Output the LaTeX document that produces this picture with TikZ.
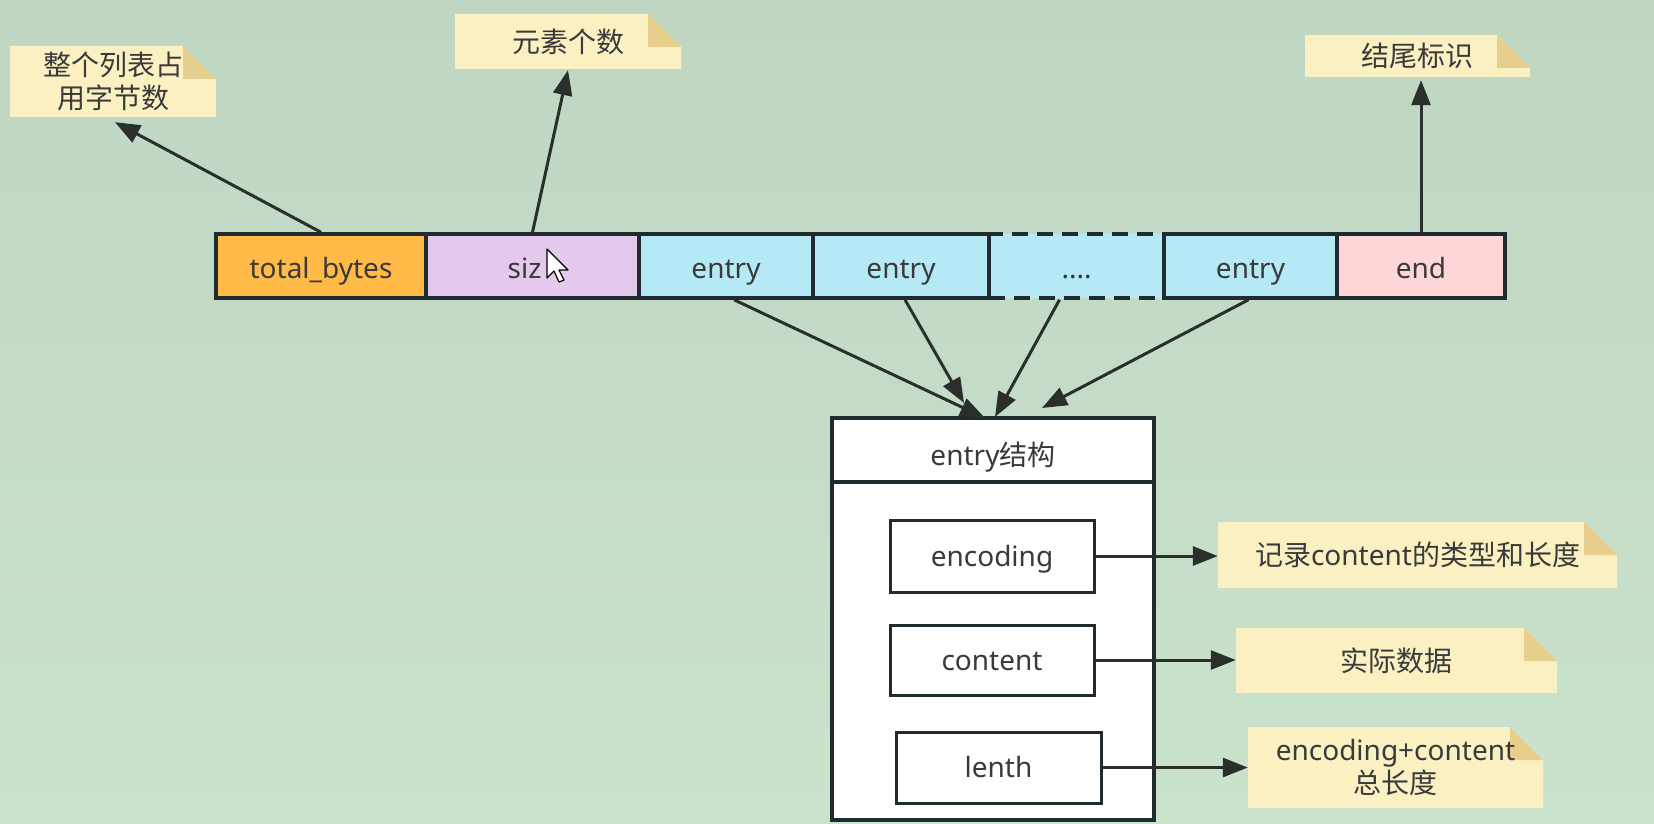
\documentclass[tikz,border=0pt]{standalone}
\usepackage{fontspec}
\setmainfont{Noto Sans}
\newfontfamily\cjk{Noto Sans CJK SC}
\usetikzlibrary{arrows.meta,calc}
\definecolor{bgtop}{HTML}{BFD6C2}
\definecolor{bgmid}{HTML}{D0E7D3}
\definecolor{bgbot}{HTML}{CAE3CD}
\definecolor{borderc}{HTML}{1F2B2E}
\definecolor{txt}{HTML}{3A3A3A}
\definecolor{orangef}{HTML}{FFBA47}
\definecolor{lilacf}{HTML}{E5C9EC}
\definecolor{cyanf}{HTML}{B5E9F5}
\definecolor{pinkf}{HTML}{FFD6D7}
\definecolor{notef}{HTML}{FAF0C2}
\definecolor{foldf}{HTML}{E7D08E}
\definecolor{arrowc}{HTML}{2B2F2C}
\newcommand\mknote[6]{%
  \fill[notef] (#2,#3) -- (#4-33,#3) -- (#4,#3+33) -- (#4,#5) -- (#2,#5) -- cycle;
  \fill[foldf] (#4-33,#3) -- (#4-33,#3+33) -- (#4,#3+33) -- cycle;
  \node[notenode, minimum width={#4-#2}, minimum height={#5-#3}] (#1) at ({(#2+#4)/2},{(#3+#5)/2}) {#6};
}
\begin{document}
\begin{tikzpicture}[x=1pt,y=-1pt,
  font=\fontsize{28}{33}\selectfont, text=txt,
  cell/.style={draw=borderc, line width=3.5pt, minimum height=64, inner sep=0, text height=24pt, text depth=0pt},
  ibox/.style={draw=borderc, line width=3pt, inner sep=0, fill=white, text height=22pt, text depth=2pt},
  notenode/.style={inner sep=0, align=center},
  arr/.style={draw=arrowc, line width=3pt, -{Triangle[length=25pt,width=19pt]}}]
\useasboundingbox (0,0) rectangle (1654,824);
\shade[top color=bgtop, middle color=bgmid, bottom color=bgbot] (0,0) rectangle (1654,824);

% notes
\mknote{n1}{10}{46}{216}{117}{{\cjk 整个列表占}\\{\cjk 用字节数}}
\mknote{n2}{455}{14}{681}{69}{{\cjk 元素个数}}
\mknote{n3}{1305}{35}{1530}{77}{{\cjk 结尾标识}}
\mknote{n4}{1218}{522}{1617}{588}{{\cjk 记录}content{\cjk 的类型和长度}}
\mknote{n5}{1236}{628}{1557}{693}{{\cjk 实际数据}}
\mknote{n6}{1248}{727}{1543}{808}{encoding+content\\{\cjk 总长度}}

% top row
\node[cell, fill=cyanf, dashed, dash pattern=on 16pt off 9pt, minimum width=175] (dots) at (1076.5,266) {....};
\node[cell, fill=orangef, minimum width=210] (tb) at (321,266) {total\_bytes};
\node[cell, fill=lilacf, minimum width=213] (sz) at (532.5,266) {siz\phantom{e}};
\node[cell, fill=cyanf, minimum width=174] (e1) at (726,266) {entry};
\node[cell, fill=cyanf, minimum width=176] (e2) at (901,266) {entry};
\node[cell, fill=cyanf, minimum width=173] (e3) at (1250.5,266) {entry};
\node[cell, fill=pinkf, minimum width=168] (end) at (1421,266) {end};

% mouse pointer
\filldraw[fill=white, draw=black, line width=1.2pt, line join=round]
  (547,249) -- (547,278) -- (554,271) -- (559,282) -- (564,280) -- (559,270) -- (568,270) -- cycle;

% entry structure
\node[ibox, line width=3.5pt, minimum width=322, minimum height=402] (stbox) at (993,619) {};
\node[ibox, line width=3.5pt, minimum width=322, minimum height=64] (st) at (993,450) {};
\node at (993,455) [text height=22pt, text depth=2pt, inner sep=0] (sttxt) {entry{\cjk 结构}};
\node[ibox, minimum width=204, minimum height=72] (enc) at (992,556) {encoding};
\node[ibox, minimum width=204, minimum height=70] (con) at (992,660) {content};
\node[ibox, minimum width=205, minimum height=71] (len) at (998.5,767.5) {lenth};

% arrows up
\draw[arr] (tb.north) -- ([xshift=2pt,yshift=-5pt]n1.south);
\draw[arr] (sz.north) -- ([yshift=-1pt]n2.south);
\draw[arr] (end.north) -- ([yshift=-3pt]end.north |- n3.south);

% arrows to structure
\coordinate (t1) at (985,418);
\coordinate (t2) at (964,403);
\coordinate (t3) at (995,417);
\coordinate (t4) at (1042,408);
\draw[arr] ([xshift=8pt]e1.south) -- (t1);
\draw[arr] ([xshift=4pt]e2.south) -- (t2);
\draw[arr] ([xshift=-17pt]dots.south) -- (t3);
\draw[arr] ([xshift=-2pt]e3.south) -- (t4);

% arrows right
\draw[arr] (enc.east) -- (enc.east -| n4.west);
\draw[arr] (con.east) -- (con.east -| n5.west);
\draw[arr] (len.east) -- (len.east -| n6.west);
\end{tikzpicture}
\end{document}
